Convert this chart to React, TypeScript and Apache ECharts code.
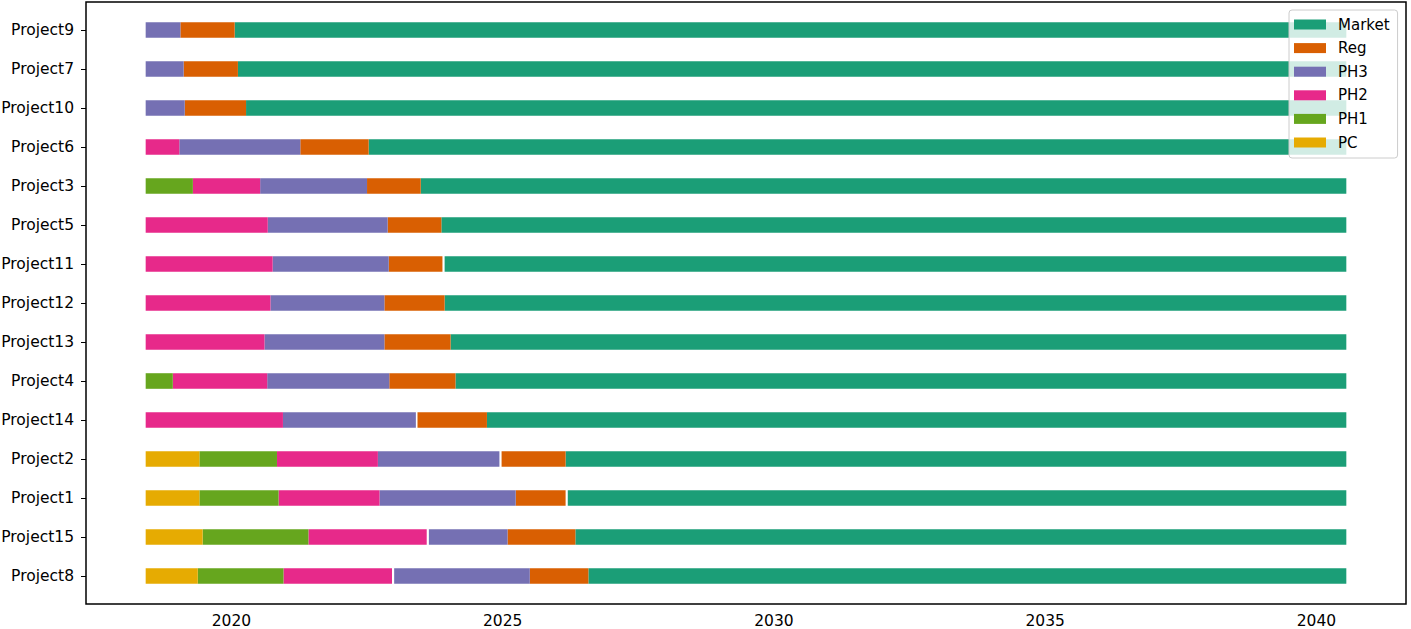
import React, { useEffect, useRef } from "react";
import * as echarts from "echarts";

// rows from bottom (index 0) to top (index 14)
const projects = [
  "Project8", "Project15", "Project1", "Project2", "Project14", "Project4", "Project13",
  "Project12", "Project11", "Project5", "Project3", "Project6", "Project10", "Project7", "Project9",
];

const pcStart = [2018.42, 2018.42, 2018.42, 2018.42, null, null, null, null, null, null, null, null, null, null, null];
const pcEnd = [2019.38, 2019.47, 2019.41, 2019.41, null, null, null, null, null, null, null, null, null, null, null];

const ph1Start = [2019.38, 2019.47, 2019.41, 2019.41, null, 2018.42, null, null, null, null, 2018.42, null, null, null, null];
const ph1End = [2020.96, 2021.42, 2020.87, 2020.84, null, 2018.92, null, null, null, null, 2019.29, null, null, null, null];

const ph2Start = [2020.96, 2021.42, 2020.87, 2020.84, 2018.42, 2018.92, 2018.42, 2018.42, 2018.42, 2018.42, 2019.29, 2018.42, null, null, null];
const ph2End = [2022.96, 2023.6, 2022.73, 2022.7, 2020.95, 2020.66, 2020.61, 2020.72, 2020.76, 2020.67, 2020.53, 2019.04, null, null, null];

const ph3Start = [2023.0, 2023.64, 2022.73, 2022.7, 2020.95, 2020.66, 2020.61, 2020.72, 2020.76, 2020.67, 2020.53, 2019.04, 2018.42, 2018.42, 2018.42];
const ph3End = [2025.5, 2025.09, 2025.24, 2024.94, 2023.4, 2022.91, 2022.82, 2022.82, 2022.9, 2022.88, 2022.5, 2021.27, 2019.14, 2019.12, 2019.06];

const regStart = [2025.5, 2025.09, 2025.24, 2024.98, 2023.43, 2022.91, 2022.82, 2022.82, 2022.9, 2022.88, 2022.5, 2021.27, 2019.14, 2019.12, 2019.06];
const regEnd = [2026.58, 2026.34, 2026.16, 2026.16, 2024.71, 2024.13, 2024.04, 2023.93, 2023.89, 2023.87, 2023.49, 2022.53, 2020.27, 2020.12, 2020.06];

const marketStart = [2026.58, 2026.34, 2026.2, 2026.16, 2024.71, 2024.13, 2024.04, 2023.93, 2023.93, 2023.87, 2023.49, 2022.53, 2020.27, 2020.12, 2020.06];
const marketEnd = [2040.55, 2040.55, 2040.55, 2040.55, 2040.55, 2040.55, 2040.55, 2040.55, 2040.55, 2040.55, 2040.55, 2040.55, 2040.55, 2040.55, 2040.55];

const xTicks = [2020, 2025, 2030, 2035, 2040];

const phases = [
  { name: "Market", color: "#1b9e77", start: marketStart, end: marketEnd },
  { name: "Reg", color: "#d95f02", start: regStart, end: regEnd },
  { name: "PH3", color: "#7570b3", start: ph3Start, end: ph3End },
  { name: "PH2", color: "#e7298a", start: ph2Start, end: ph2End },
  { name: "PH1", color: "#66a61e", start: ph1Start, end: ph1End },
  { name: "PC", color: "#e6ab02", start: pcStart, end: pcEnd },
];

const FONT = "DejaVu Sans";

export default function App() {
  const ref = useRef<HTMLDivElement>(null);
  useEffect(() => {
    if (!ref.current) return;
    const chart = echarts.init(ref.current, null, { renderer: "svg" });
    const series = phases.map((ph) => {
      const data: any[] = [];
      ph.start.forEach((s, i) => {
        const e = ph.end[i];
        if (s !== null && e !== null) data.push([s, e, i]);
      });
      return {
        type: "custom",
        name: ph.name,
        itemStyle: { color: ph.color },
        encode: { x: [0, 1], y: 2 },
        data,
        renderItem: (params: any, api: any) => {
          const s = api.value(0);
          const e = api.value(1);
          const y = api.value(2);
          const p0 = api.coord([s, y]);
          const p1 = api.coord([e, y]);
          const h = api.size([0, 0.4])[1];
          return {
            type: "rect",
            shape: { x: p0[0], y: p0[1] - h / 2, width: p1[0] - p0[0], height: h },
            style: { fill: ph.color },
          };
        },
      };
    });
    chart.setOption({
      animation: false,
      textStyle: { fontFamily: FONT },
      grid: {
        left: 86,
        right: 5,
        top: 2,
        bottom: 25,
        containLabel: false,
        outerBoundsMode: "none",
        show: true,
        borderColor: "#000",
        borderWidth: 1.5,
        backgroundColor: "#fff",
      },
      legend: {
        orient: "vertical",
        left: 1289,
        top: 10,
        padding: [7, 8, 8, 5],
        itemWidth: 32,
        itemHeight: 10,
        itemGap: 8.6,
        backgroundColor: "rgba(255,255,255,0.8)",
        borderColor: "#cccccc",
        borderWidth: 1,
        borderRadius: 3,
        data: phases.map((p) => ({ name: p.name, icon: "rect" })),
        textStyle: { fontFamily: FONT, fontSize: 15, color: "#000", padding: [0, 0, 0, 7] },
      },
      xAxis: {
        type: "value",
        min: 2017.32,
        max: 2041.65,
        axisLine: { show: false },
        splitLine: { show: false },
        axisTick: {
          show: true,
          length: 5,
          customValues: xTicks,
          lineStyle: { color: "#000", width: 1 },
        },
        axisLabel: {
          customValues: xTicks,
          fontFamily: FONT,
          fontSize: 15.5,
          lineHeight: 14,
          color: "#000",
          margin: 10,
          formatter: (v: number) => String(v),
        },
      },
      yAxis: {
        type: "value",
        min: -0.717,
        max: 14.717,
        axisLine: { show: false },
        splitLine: { show: false },
        axisTick: {
          show: true,
          length: 5,
          customValues: projects.map((_, i) => i),
          lineStyle: { color: "#000", width: 1 },
        },
        axisLabel: {
          customValues: projects.map((_, i) => i),
          fontFamily: FONT,
          fontSize: 15.5,
          color: "#000",
          margin: 12,
          formatter: (v: number) => projects[Math.round(v)] ?? "",
        },
      },
      series,
    });
    return () => chart.dispose();
  }, []);
  return (
    <div
      ref={ref}
      style={{ position: "fixed", left: 0, top: 0, width: 1411, height: 629, background: "#fff" }}
    />
  );
}
